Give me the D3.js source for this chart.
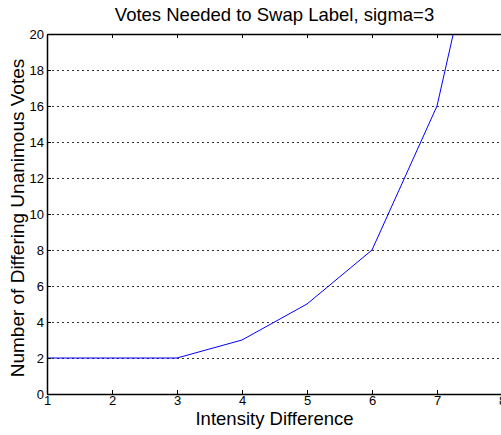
<!DOCTYPE html>
<html>
<head>
<meta charset="utf-8">
<script src="https://cdn.jsdelivr.net/npm/d3@7"></script>
<style>
  body { margin: 0; background: #fff; }
  svg { display: block; font-family: "Liberation Sans", Arial, sans-serif; }
  .grid line { stroke: #333; stroke-dasharray: 2,3; stroke-width: 1; }
  .tick text { font-size: 13px; fill: #000; }
</style>
</head>
<body>
<svg id="chart" width="501" height="435"></svg>
<script>
  var intensity = [1, 2, 3, 4, 5, 6, 7, 8];
  var votes = [2, 2, 2, 3, 5, 8, 16, 32];
  var xTicks = [1, 2, 3, 4, 5, 6, 7, 8];
  var yTicks = [0, 2, 4, 6, 8, 10, 12, 14, 16, 18, 20];

  var margin = {top: 34, right: -1, bottom: 41, left: 47},
      width  = 501 - margin.left - margin.right,
      height = 435 - margin.top - margin.bottom;

  var svg = d3.select("#chart");
  var chart = svg.append("g")
    .attr("transform", "translate(" + margin.left + "," + margin.top + ")");

  var xScale = d3.scaleLinear().domain([1, 8]).range([0, width]);
  var yScale = d3.scaleLinear().domain([0, 20]).range([height, 0]);

  chart.append("defs").append("clipPath").attr("id", "clip")
    .append("rect").attr("width", width).attr("height", height);

  // dotted grid at y ticks
  chart.append("g").attr("class", "grid")
    .selectAll("line")
    .data(yTicks.slice(1, -1))
    .enter().append("line")
      .attr("x1", 0).attr("x2", width)
      .attr("y1", function(d) { return yScale(d) + 0.5; })
      .attr("y2", function(d) { return yScale(d) + 0.5; });

  // data line
  var line = d3.line()
    .x(function(d, i) { return xScale(intensity[i]); })
    .y(function(d) { return yScale(d); });

  chart.append("path")
    .datum(votes)
    .attr("clip-path", "url(#clip)")
    .attr("fill", "none")
    .attr("stroke", "#0000ff")
    .attr("stroke-width", 1)
    .attr("d", line);

  // axes, ticks pointing inward
  var xAxis = d3.axisBottom(xScale).tickValues(xTicks).tickFormat(d3.format("d"))
    .tickSizeInner(-4).tickSizeOuter(0).tickPadding(2);
  var yAxis = d3.axisLeft(yScale).tickValues(yTicks).tickFormat(d3.format("d"))
    .tickSizeInner(-4).tickSizeOuter(0).tickPadding(3);
  var xTop = d3.axisTop(xScale).tickValues(xTicks).tickFormat("")
    .tickSizeInner(-4).tickSizeOuter(0);

  function styleAxis(g) {
    g.select(".domain").attr("stroke", "#000").attr("stroke-width", 1.5);
    g.selectAll(".tick line").attr("stroke", "#000");
  }

  chart.append("g")
    .attr("transform", "translate(0," + height + ")")
    .call(xAxis).call(styleAxis)
    .attr("font-family", null).attr("font-size", null);

  chart.append("g")
    .call(xTop).call(styleAxis);

  chart.append("g")
    .call(yAxis).call(styleAxis)
    .attr("font-family", null).attr("font-size", null)
    .selectAll(".tick text").attr("dy", "0.32em");

  // titles
  svg.append("text")
    .attr("x", margin.left + width / 2)
    .attr("y", 21)
    .attr("text-anchor", "middle")
    .attr("font-size", "18.5px")
    .text("Votes Needed to Swap Label, sigma=3");

  svg.append("text")
    .attr("x", margin.left + width / 2)
    .attr("y", 425)
    .attr("text-anchor", "middle")
    .attr("font-size", "18.5px")
    .text("Intensity Difference");

  svg.append("text")
    .attr("transform", "translate(23.5," + (margin.top + height / 2 + 4) + ") rotate(-90)")
    .attr("text-anchor", "middle")
    .attr("font-size", "19px")
    .text("Number of Differing Unanimous Votes");
</script>
</body>
</html>
